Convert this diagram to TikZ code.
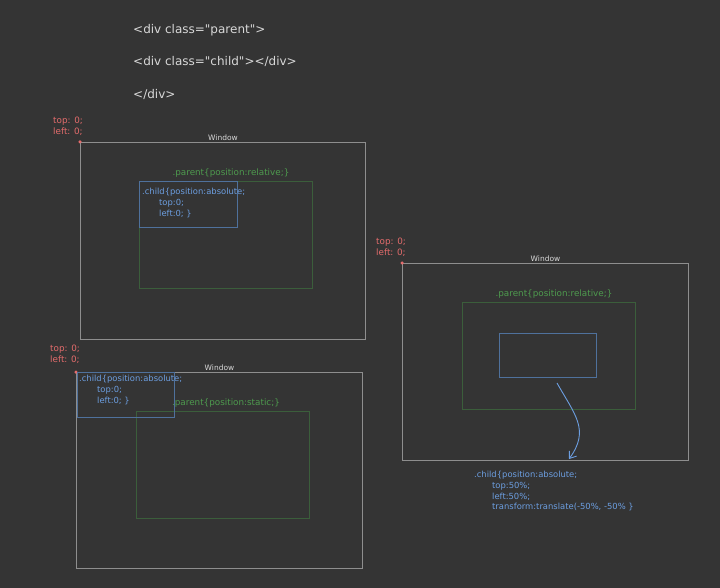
\documentclass[tikz,border=0pt]{standalone}
\usepackage{fontspec}
\setmainfont{DejaVu Sans}[Ligatures=TeXOff]
\usetikzlibrary{positioning,arrows.meta}
\definecolor{bgcol}{HTML}{343434}
\definecolor{wincol}{HTML}{8E8E8E}
\definecolor{wintext}{HTML}{D8D8D8}
\definecolor{parcol}{HTML}{3B5E3B}
\definecolor{partext}{HTML}{4E9A4E}
\definecolor{chcol}{HTML}{4F719C}
\definecolor{chtext}{HTML}{6C9EE0}
\definecolor{redcol}{HTML}{E46C6C}
\tikzset{
  winbox/.style={draw=wincol,line width=1pt,anchor=north west,inner sep=0pt},
  parbox/.style={draw=parcol,line width=0.9pt,anchor=north west,inner sep=0pt},
  chbox/.style={draw=chcol,line width=0.9pt,anchor=north west,inner sep=0pt},
  winlabel/.style={text=wintext,font=\fontsize{7.5}{8}\selectfont,inner sep=1pt},
  parlabel/.style={text=partext,font=\fontsize{8.8}{10}\selectfont,inner sep=1pt},
  chlabel/.style={text=chtext,font=\fontsize{8.4}{10.8}\selectfont,align=left,anchor=north west,inner sep=0pt},
  poslabel/.style={text=redcol,font=\fontsize{8.8}{11}\selectfont,align=left,anchor=north west,inner sep=0pt},
  codeline/.style={text=wintext,font=\fontsize{12}{14}\selectfont,anchor=west,inner sep=0pt},
  origin/.style={circle,fill=redcol,inner sep=0pt,minimum size=3.5pt}
}
\begin{document}
\begin{tikzpicture}[x=1pt,y=-1pt]
\useasboundingbox (0,0) rectangle (720,588);
\fill[bgcol] (0,0) rectangle (720,588);

\node[codeline] (htmlA) at (133,30) {<div class="parent">};
\node[codeline] (htmlB) at (133,62) {<div class="child"></div>};
\node[codeline] (htmlC) at (133,94) {</div>};

\node[winbox,minimum width=285pt,minimum height=197pt] (winA) at (80,142) {};
\node[winlabel,above=0pt of winA.north] (winAlab) {Window};
\node[origin] (dotA) at (winA.north west) {};
\node[poslabel] (posA) at (53,117) {top: 0;\\left: 0;};
\node[parbox,minimum width=173pt,minimum height=107pt] (parA) at (139,181) {};
\node[parlabel,above=2pt of parA.north,xshift=5pt] (parAlab) {.parent\{position:relative;\}};
\node[chbox,minimum width=98pt,minimum height=46pt] (chA) at (139,181) {};
\node[chlabel] (chAlab) at (142,188) {.child\{position:absolute;\\\hspace*{17pt}top:0;\\\hspace*{17pt}left:0; \}};

\node[winbox,minimum width=286pt,minimum height=197pt] (winB) at (402,263) {};
\node[winlabel,above=0pt of winB.north] (winBlab) {Window};
\node[origin] (dotB) at (winB.north west) {};
\node[poslabel] (posB) at (376,238) {top: 0;\\left: 0;};
\node[parbox,minimum width=173pt,minimum height=107pt] (parB) at (462,302) {};
\node[parlabel,above=2pt of parB.north,xshift=5pt] (parBlab) {.parent\{position:relative;\}};
\node[chbox,minimum width=97pt,minimum height=44pt] (chB) at (499,333) {};
\coordinate (arrowS) at (557,383);
\coordinate (arrowE) at (569,459);
\draw[chtext,line width=0.9pt,-{Straight Barb[length=6pt,width=9pt]}] (arrowS) .. controls (575,415) and (590,430) .. (arrowE);
\node[chlabel] (chBlab) at (474,471) {.child\{position:absolute;\\\hspace*{18pt}top:50\%;\\\hspace*{18pt}left:50\%;\\\hspace*{18pt}transform:translate(-50\%, -50\% \}};

\node[winbox,minimum width=286pt,minimum height=196pt] (winC) at (76,372) {};
\node[winlabel,above=0pt of winC.north] (winClab) {Window};
\node[origin] (dotC) at (winC.north west) {};
\node[poslabel] (posC) at (50,345) {top: 0;\\left: 0;};
\node[parbox,minimum width=173pt,minimum height=107pt] (parC) at (136,411) {};
\node[parlabel,above=2pt of parC.north,xshift=3pt] (parClab) {.parent\{position:static;\}};
\node[chbox,minimum width=97pt,minimum height=45pt] (chC) at (77,372) {};
\node[chlabel] (chClab) at (79,375) {.child\{position:absolute;\\\hspace*{18pt}top:0;\\\hspace*{18pt}left:0; \}};
\end{tikzpicture}
\end{document}
